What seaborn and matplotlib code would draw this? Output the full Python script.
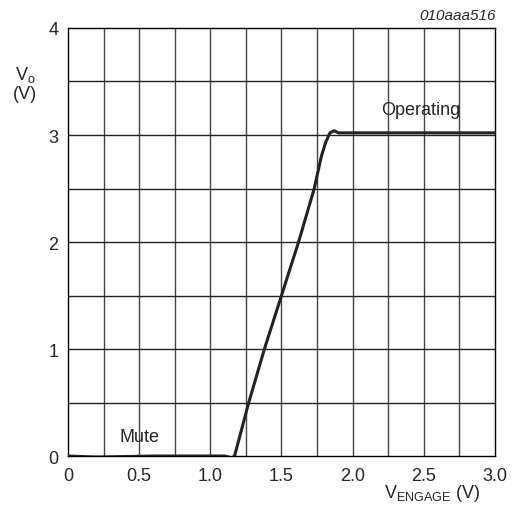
import matplotlib
matplotlib.use("Agg")
import matplotlib.pyplot as plt
import numpy as np
import pandas as pd
import seaborn as sns

# curve
v_engage = [0.0, 0.2, 0.6, 1.10, 1.13, 1.15, 1.17, 1.20, 1.27, 1.38, 1.50,
            1.62, 1.73, 1.78, 1.81, 1.84, 1.87, 1.90, 2.2, 2.6, 3.0]
v_out = [0.0, -0.01, 0.0, 0.0, -0.01, -0.02, 0.0, 0.15, 0.50, 1.00, 1.50,
         2.00, 2.50, 2.80, 2.93, 3.02, 3.04, 3.02, 3.02, 3.02, 3.02]

x_ticks = [0, 0.5, 1.0, 1.5, 2.0, 2.5, 3.0]
x_tick_labels = ["0", "0.5", "1.0", "1.5", "2.0", "2.5", "3.0"]
y_ticks = [0, 1, 2, 3, 4]

sns.set_style("white")
plt.rcParams["font.family"] = ["Liberation Sans", "DejaVu Sans"]

df = pd.DataFrame({"x": v_engage, "y": v_out})

fig = plt.figure(figsize=(5.12, 5.06), dpi=100)
ax = fig.add_axes([0.1328, 0.0968, 0.8340, 0.8459])

# grid: 0.25 V in x, 0.5 V in y
for gx in np.arange(0.25, 3.0, 0.25):
    ax.axvline(gx, color="#444444", lw=1.0, zorder=1)
for gy in np.arange(0.5, 4.0, 0.5):
    ax.axhline(gy, color="#222222", lw=1.0, zorder=1)

sns.lineplot(data=df, x="x", y="y", ax=ax, color="#222222", lw=2.2, zorder=3)

ax.set_xlim(0, 3.0)
ax.set_ylim(0, 4)
ax.set_xticks(x_ticks)
ax.set_xticklabels(x_tick_labels)
ax.set_yticks(y_ticks)
ax.tick_params(length=0, labelsize=13)
ax.tick_params(axis="x", pad=8)
ax.tick_params(axis="y", pad=7)
for s in ax.spines.values():
    s.set_color("black")
    s.set_linewidth(1.0)
ax.set_xlabel("")
ax.set_ylabel("")

ax.text(0.5, 0.18, "Mute", fontsize=13, ha="center", va="center")
ax.text(2.48, 3.24, "Operating", fontsize=13, ha="center", va="center")

fig.text(0.049, 0.834, "V$_\\mathregular{o}$\n(V)", fontsize=13, ha="center",
         va="center", linespacing=1.1)
fig.text(0.938, 0.003, "V$_\\mathregular{ENGAGE}$ (V)", fontsize=13,
         ha="right", va="bottom")
fig.text(0.968, 0.955, "010aaa516", fontsize=11, style="italic",
         ha="right", va="bottom")

fig.savefig("out.png", dpi=100)
